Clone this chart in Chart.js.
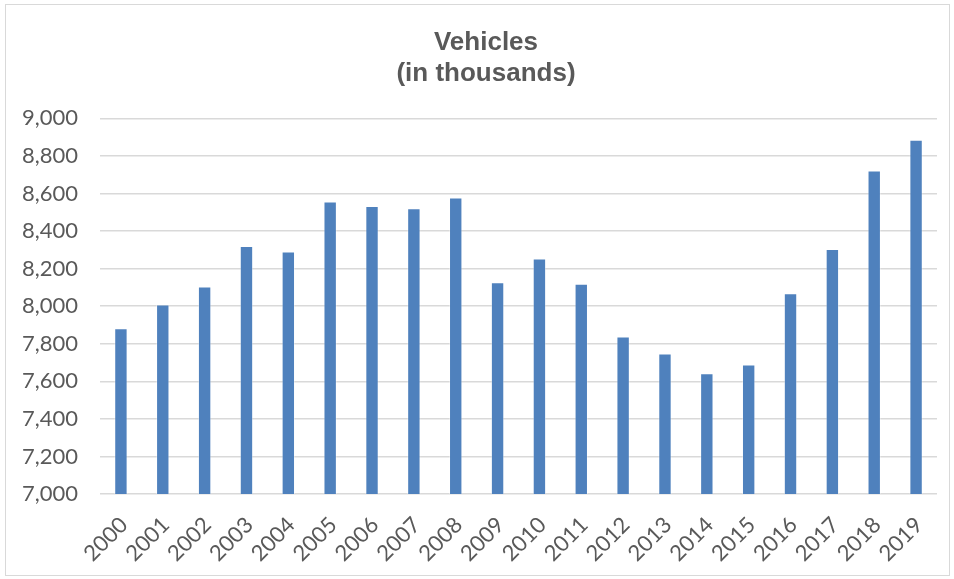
<!DOCTYPE html>
<html>
<head>
<meta charset="utf-8">
<script src="https://cdn.jsdelivr.net/npm/chart.js@4/dist/chart.umd.min.js"></script>
<style>
  html, body { margin: 0; padding: 0; background: #ffffff; }
  #frame {
    position: absolute; left: 5px; top: 4px;
    width: 943px; height: 570px;
    border: 1px solid #d9d9d9;
  }
  #chart { position: absolute; left: 0; top: 0; }
</style>
</head>
<body>
<div id="frame"></div>
<canvas id="chart" width="954" height="579"></canvas>
<script>
// chart data
var years = ["2000", "2001", "2002", "2003", "2004", "2005", "2006", "2007", "2008", "2009",
             "2010", "2011", "2012", "2013", "2014", "2015", "2016", "2017", "2018", "2019"];
var vehicles = [7883, 8009, 8105, 8321, 8291, 8558, 8533, 8522, 8579, 8128,
                8254, 8119, 7839, 7748, 7643, 7689, 8069, 8304, 8723, 8886];
var titleLines = ["Vehicles", "(in thousands)"];
var yMin = 7000;
var yMax = 9000;
var yStep = 200;

var textGrey = "#595959";
var gridGrey = "#d9d9d9";

// the reference title sits a bit right of the canvas centre
var shiftTitle = {
  id: "shiftTitle",
  afterLayout: function (chart) {
    if (chart.titleBlock) chart.titleBlock.left = 35;
  }
};

var ctx = document.getElementById("chart").getContext("2d");

new Chart(ctx, {
  type: "bar",
  data: {
    labels: years,
    datasets: [{
      label: "Vehicles",
      data: vehicles,
      backgroundColor: "#4f81bd",
      borderColor: "rgba(255,255,255,0.35)",
      borderWidth: 1,
      barPercentage: 1,
      categoryPercentage: 0.32
    }]
  },
  plugins: [shiftTitle],
  options: {
    responsive: false,
    animation: false,
    devicePixelRatio: 1,
    layout: { padding: { left: 0, right: 17, top: 0, bottom: 0 } },
    plugins: {
      legend: { display: false },
      tooltip: { enabled: false },
      title: {
        display: true,
        text: titleLines,
        color: textGrey,
        font: { family: "'Liberation Sans', Arial, sans-serif", size: 26, weight: "bold", lineHeight: 1.2 },
        padding: { top: 27, bottom: 29 }
      }
    },
    scales: {
      x: {
        grid: { display: false, drawTicks: false },
        border: { display: false },
        ticks: {
          color: textGrey,
          font: { family: "Lato, 'Open Sans', sans-serif", size: 22 },
          autoSkip: false,
          minRotation: 45,
          maxRotation: 45,
          padding: 18,
          labelOffset: 3
        },
        afterFit: function (scale) { scale.height = 85; }
      },
      y: {
        min: yMin,
        max: yMax,
        grid: { color: gridGrey, lineWidth: 1.5, drawTicks: false },
        border: { display: false },
        ticks: {
          stepSize: yStep,
          color: textGrey,
          font: { family: "Lato, 'Open Sans', sans-serif", size: 22 },
          padding: 22,
          callback: function (v) { return v.toLocaleString("en-US"); }
        },
        afterFit: function (scale) { scale.width = 100; }
      }
    }
  }
});
</script>
</body>
</html>
